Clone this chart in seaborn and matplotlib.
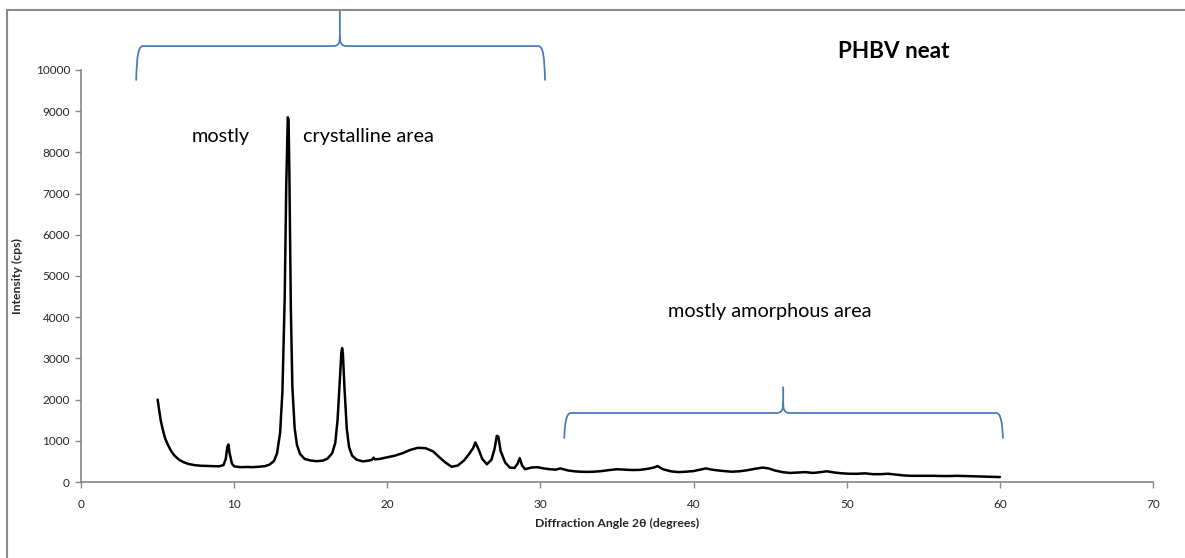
import matplotlib
matplotlib.use("Agg")
import matplotlib.pyplot as plt
from matplotlib.path import Path
from matplotlib.patches import PathPatch, Rectangle
import pandas as pd
import seaborn as sns

# Diffraction pattern of neat PHBV: 2-theta (degrees) and intensity (cps)
two_theta = [
    5.0, 5.1, 5.2, 5.35, 5.5, 5.7, 5.9, 6.1, 6.4, 6.7, 7.0, 7.4, 7.8, 8.2, 8.6,
    9.0, 9.3, 9.45, 9.55, 9.62, 9.7, 9.85, 10.0, 10.4, 10.8, 11.2, 11.6, 12.0,
    12.3, 12.6, 12.8, 13.0, 13.15, 13.3, 13.4, 13.5, 13.55, 13.6, 13.7, 13.8,
    13.95, 14.1, 14.3, 14.6, 15.0, 15.4, 15.8, 16.1, 16.4, 16.6, 16.75, 16.9,
    17.0, 17.05, 17.1, 17.2, 17.35, 17.5, 17.7, 18.0, 18.4, 18.8, 19.0, 19.1,
    19.2, 19.5, 20.0, 20.5, 21.0, 21.5, 22.0, 22.5, 23.0, 23.4, 23.8, 24.2,
    24.6, 25.0, 25.3, 25.6, 25.75, 25.95, 26.2, 26.5, 26.8, 27.0, 27.15, 27.25,
    27.4, 27.7, 28.0, 28.3, 28.5, 28.65, 28.8, 29.0, 29.4, 29.8, 30.2, 30.6,
    31.0, 31.3, 31.8, 32.2, 32.6, 33.0, 33.5, 34.0, 34.5, 35.0, 35.5, 36.0,
    36.5, 37.0, 37.4, 37.65, 38.0, 38.5, 39.0, 39.5, 40.0, 40.5, 40.8, 41.2,
    41.6, 42.0, 42.5, 43.0, 43.5, 44.0, 44.5, 44.9, 45.3, 45.8, 46.3, 46.8,
    47.3, 47.8, 48.3, 48.7, 49.2, 49.7, 50.2, 50.7, 51.2, 51.7, 52.2, 52.7,
    53.2, 53.7, 54.2, 54.7, 55.2, 55.7, 56.2, 56.7, 57.2, 57.7, 58.2, 58.7,
    59.2, 59.6, 60.0,
]
intensity = [
    2000, 1750, 1500, 1250, 1050, 880, 740, 640, 540, 480, 440, 410, 395, 390, 385,
    380, 410, 560, 850, 910, 700, 450, 380, 360, 365, 360, 370, 385,
    420, 510, 700, 1200, 2200, 4500, 7200, 8850, 8800, 7600, 4200, 2300,
    1300, 900, 680, 560, 520, 505, 520, 570, 700, 950, 1500, 2500,
    3150, 3250, 3100, 2300, 1300, 850, 640, 540, 500, 520, 540, 590,
    550, 560, 600, 640, 700, 780, 830, 820, 740, 600, 470, 370,
    400, 520, 660, 820, 960, 800, 560, 430, 540, 800, 1120, 1100,
    750, 470, 350, 340, 440, 580, 400, 310, 350, 360, 330, 310,
    300, 330, 280, 260, 250, 245, 250, 265, 290, 310, 300, 290,
    295, 320, 350, 385, 310, 260, 240, 250, 265, 305, 330, 300,
    280, 265, 250, 260, 285, 320, 350, 330, 280, 240, 220, 230,
    240, 220, 240, 260, 230, 210, 200, 200, 210, 190, 190, 200,
    180, 160, 150, 150, 150, 150, 145, 145, 150, 145, 140, 135,
    130, 125, 120,
]

x_ticks = list(range(0, 71, 10))
y_ticks = list(range(0, 10001, 1000))

title_text = "PHBV neat"
x_label = "Diffraction Angle 2\u03b8 (degrees)"
y_label = "Intensity (cps)"

df = pd.DataFrame({"two_theta": two_theta, "intensity": intensity})

sns.set_theme(style="white")
plt.rcParams["font.family"] = ["Lato", "DejaVu Sans"]

fig = plt.figure(figsize=(11.85, 5.58), dpi=100)
ax = fig.add_axes([0.0684, 0.1362, 0.9046, 0.7384])

sns.lineplot(data=df, x="two_theta", y="intensity", ax=ax, color="black",
             linewidth=1.8, estimator=None, sort=False)

ax.set_xlim(0, 70)
ax.set_ylim(0, 10000)
ax.set_xticks(x_ticks)
ax.set_yticks(y_ticks)
ax.set_xticklabels([str(t) for t in x_ticks], fontsize=8.5)
ax.set_yticklabels([str(t) for t in y_ticks], fontsize=8.5)
ax.tick_params(axis="both", direction="out", length=4, width=1,
               color="#868686", bottom=True, left=True)
ax.tick_params(axis="x", pad=8)
ax.tick_params(axis="y", pad=4)
for side in ("top", "right"):
    ax.spines[side].set_visible(False)
for side in ("left", "bottom"):
    ax.spines[side].set_color("#868686")
    ax.spines[side].set_linewidth(1.2)

ax.set_xlabel(x_label, fontsize=8.8, fontweight="bold", labelpad=6)
ax.set_ylabel(y_label, fontsize=8.8, fontweight="bold", labelpad=9)

brace_color = "#4A7EBB"


def brace(ax, x0, x1, xt, y_end, y_h, y_tip):
    rx, ry = 0.45, 170
    verts = [
        (x0, y_end),
        (x0 + 0.05, y_h - 250), (x0 + 0.12, y_h), (x0 + rx, y_h),
        (xt - rx, y_h),
        (xt - 0.05, y_h), (xt, y_h + ry * 0.6), (xt, y_h + ry * 1.4),
        (xt, y_tip),
        (xt, y_h + ry * 1.4),
        (xt, y_h + ry * 0.6), (xt + 0.05, y_h), (xt + rx, y_h),
        (x1 - rx, y_h),
        (x1 - 0.12, y_h), (x1 - 0.05, y_h - 250), (x1, y_end),
    ]
    codes = [
        Path.MOVETO,
        Path.CURVE4, Path.CURVE4, Path.CURVE4,
        Path.LINETO,
        Path.CURVE4, Path.CURVE4, Path.CURVE4,
        Path.LINETO,
        Path.MOVETO,
        Path.CURVE4, Path.CURVE4, Path.CURVE4,
        Path.LINETO,
        Path.CURVE4, Path.CURVE4, Path.CURVE4,
    ]
    patch = PathPatch(Path(verts, codes), facecolor="none", edgecolor=brace_color,
                      linewidth=1.3, clip_on=False, capstyle="round")
    ax.add_patch(patch)


brace(ax, 3.6, 30.3, 16.9, 9760, 10580, 11460)
brace(ax, 31.55, 60.2, 45.85, 1070, 1675, 2300)

ax.text(9.1, 8380, "mostly", fontsize=14.3, ha="center", va="center", color="black")
ax.text(14.5, 8380, "crystalline area", fontsize=14.3, ha="left", va="center",
        color="black")
ax.text(45.0, 4130, "mostly amorphous area", fontsize=14.3, ha="center",
        va="center", color="black")
ax.text(53.1, 10440, title_text, fontsize=16.2, fontweight="bold", ha="center",
        va="center", color="black")

# outer chart frame
fig.patches.append(Rectangle((7 / 1185, -0.05), 1.2, 1 - 10 / 558 + 0.05,
                             transform=fig.transFigure, fill=False,
                             edgecolor="#8a8a8a", linewidth=1.5))

fig.savefig("out.png", dpi=100)
